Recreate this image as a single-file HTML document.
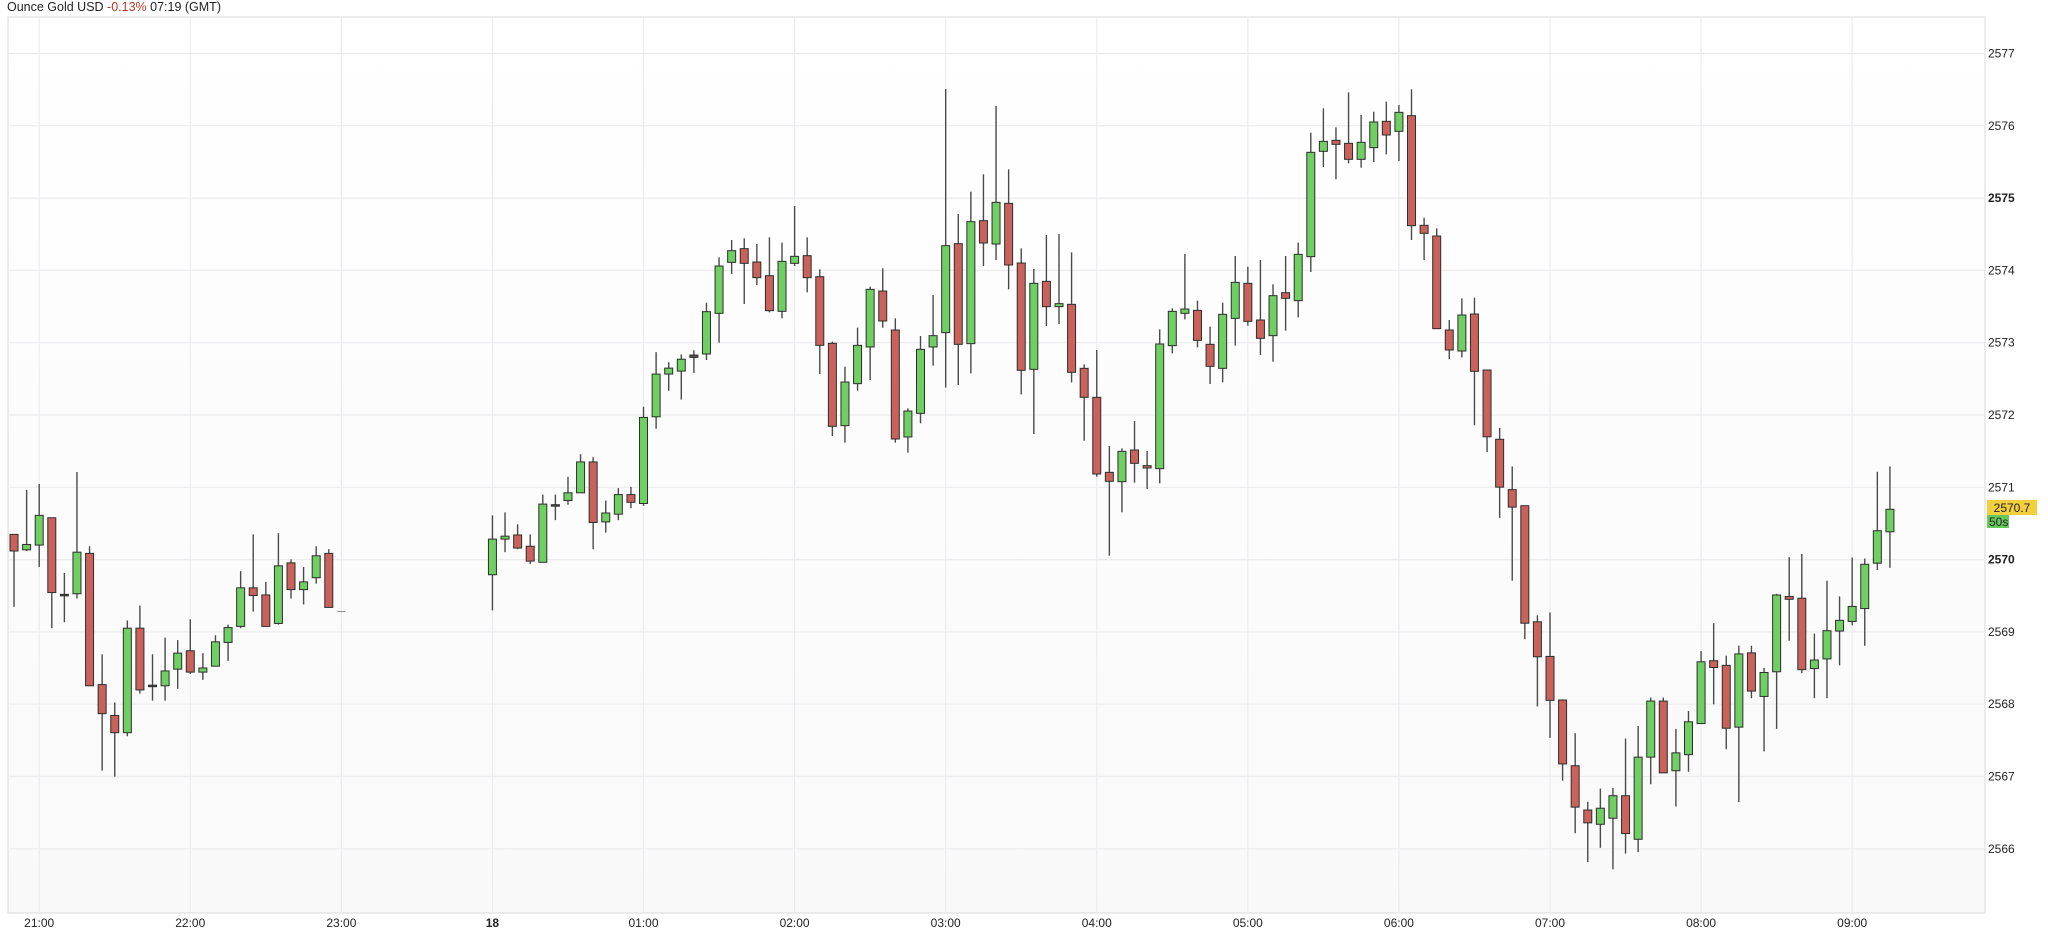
<!DOCTYPE html>
<html><head><meta charset="utf-8"><style>
html,body{margin:0;padding:0;background:#fff;width:2048px;height:931px;overflow:hidden}
svg{display:block}
text{font-family:"Liberation Sans",sans-serif}
</style></head><body>
<svg id="c" width="2048" height="931" viewBox="0 0 2048 931" xmlns="http://www.w3.org/2000/svg">
<defs><linearGradient id="bg" x1="0" y1="0" x2="0" y2="1"><stop offset="0" stop-color="#ffffff"/><stop offset="1" stop-color="#f9f9fa"/></linearGradient></defs>
<rect x="8" y="17" width="1977" height="896" fill="url(#bg)" stroke="#d9d9de" stroke-width="1"/>
<g id="grid"></g>
<g id="cand"></g>
<text x="7" y="11" font-size="12.5" fill="#222">Ounce Gold USD <tspan fill="#c0392b">-0.13%</tspan> 07:19 (GMT)</text>
<g id="labels"></g>
<rect x="1987" y="500" width="50" height="15" fill="#f2cf3c"/>
<text x="2012" y="512" font-size="12" text-anchor="middle" fill="#222">2570.7</text>
<rect x="1987" y="515" width="22" height="13" fill="#67c95a"/>
<text x="1989" y="526" font-size="12" fill="#222">50s</text>
</svg>
<script>
var NS="http://www.w3.org/2000/svg";
function el(t,a,p,txt){var e=document.createElementNS(NS,t);for(var k in a)e.setAttribute(k,a[k]);if(txt)e.textContent=txt;document.getElementById(p).appendChild(e);return e;}
function py(p){return 53.5+(2577-p)*72.3;}
// horizontal grid + y labels
for(var p=2566;p<=2577;p++){var y=py(p);
 el('line',{x1:8,x2:1985,y1:y,y2:y,stroke:'#ececf0','stroke-width':1.2},'grid');
 el('text',{x:1988,y:y+4,'font-size':12,fill:'#222','font-weight':(p==2575||p==2570)?'bold':'normal'},'labels',String(p));}
function X(i){return 39.2+i*12.59;}
var hrs=['21:00','22:00','23:00','18','01:00','02:00','03:00','04:00','05:00','06:00','07:00','08:00','09:00'];
for(var k=0;k<hrs.length;k++){var x=X(k*12);
 el('line',{x1:x,x2:x,y1:17,y2:913,stroke:'#ececf0','stroke-width':1.2},'grid');
 el('text',{x:x,y:927,'font-size':12,'text-anchor':'middle',fill:'#222','font-weight':hrs[k]=='18'?'bold':'normal'},'labels',hrs[k]);}
// data: [i, wickTop, bodyTop, bodyBot, wickBot, color]
var z1=[[-2,900,900,928,1022,'R'],[-1,825,917,926,928,'G'],[0,815,868,918,955,'G'],[1,872,872,998,1058,'R'],[2,965,1001,1003,1048,'D'],[3,795,930,1000,1008,'G'],[4,920,932,1155,1155,'R'],[5,1102,1153,1202,1298,'R'],[6,1183,1205,1234,1308,'R'],[7,1045,1058,1234,1240,'G'],[8,1020,1058,1162,1168,'R'],[9,1102,1154,1156,1180,'D'],[10,1074,1130,1155,1180,'G'],[11,1078,1100,1127,1160,'G'],[12,1043,1096,1132,1135,'R'],[13,1100,1125,1132,1145,'G'],[14,1070,1081,1122,1122,'G'],[15,1052,1057,1082,1113,'G'],[16,962,990,1055,1058,'G'],[17,900,990,1003,1030,'R'],[18,980,1002,1055,1055,'R'],[19,898,953,1050,1052,'G'],[20,942,948,993,1008,'R'],[21,955,980,993,1018,'G'],[22,920,936,973,983,'G'],[23,925,932,1023,1023,'R'],[24,1030,1030,1031,1031,'N'],
[36,868,908,968,1028,'G'],[37,863,903,908,930,'G'],[38,883,901,923,925,'R'],[39,900,920,945,950,'R'],[40,833,849,947,947,'G'],[41,833,850,852,876,'D'],[42,803,830,843,850,'G'],[43,765,778,830,830,'G'],[44,770,778,880,925,'R'],[45,843,864,879,897,'G'],[46,822,833,866,876,'G'],[47,820,833,846,856,'R'],[48,685,703,848,852,'G'],[49,593,630,702,722,'G'],[50,610,620,630,658,'G'],[51,597,605,625,673,'G'],[52,590,598,602,628,'D']];
var z3=[[53,728,755,882,900,'G'],[54,592,618,760,848,'G'],[55,540,572,607,642,'G'],[56,535,566,610,732,'R'],[57,552,606,653,675,'R'],[58,532,647,752,757,'R'],[59,548,604,754,775,'G'],[60,438,589,610,618,'G'],[61,532,587,653,697,'R'],[62,628,650,856,942,'R'],[63,845,850,1099,1128,'R'],[64,920,966,1097,1148,'G'],[65,803,856,971,992,'G'],[66,680,688,861,960,'G'],[67,625,693,783,803,'R'],[68,775,810,1137,1148,'R'],[69,1045,1053,1131,1178,'G'],[70,828,868,1060,1090,'G'],[71,705,827,861,917,'G'],[72,87,557,818,983,'G'],[73,462,551,853,975,'R'],[74,395,485,851,940,'G'],[75,343,482,549,618,'R'],[76,138,427,552,600,'G'],
[77,328,430,615,688,'R'],[78,565,609,931,1003,'R'],[79,627,670,928,1122,'G'],[80,525,664,740,798,'R'],[81,522,731,740,792,'G'],[82,577,733,937,967,'R'],[83,913,925,1012,1142,'R'],[84,870,1012,1242,1250,'R'],[85,1158,1237,1264,1487,'R'],[86,1165,1174,1265,1357,'G'],[87,1083,1170,1210,1268,'R'],[88,1173,1217,1224,1287,'R'],[89,808,852,1226,1270,'G'],[90,745,754,857,880,'G'],[91,582,747,760,778,'G'],[92,722,751,841,862,'R'],[93,800,853,919,972,'R'],[94,728,763,925,967,'G'],[95,588,667,775,857,'G'],[96,620,670,784,797,'R'],[97,600,780,835,885,'R'],[98,673,707,827,905,'G'],[99,588,698,715,812,'R'],[100,548,583,722,772,'G'],[101,218,277,590,636,'G'],[102,145,244,274,321,'G'],[103,202,241,253,358,'R'],[104,97,250,298,310,'R'],[105,165,247,298,323,'G'],[106,155,186,263,306,'G'],[107,125,184,225,283,'R'],[108,135,157,214,303,'G'],[109,88,167,497,540,'R'],[110,473,496,520,600,'R'],[111,505,528,806,806,'R'],[112,780,810,870,897,'R'],[113,715,765,873,892,'G'],[114,713,762,934,1096,'R']];
var z5=[[115,28,28,215,258,'R'],[116,190,222,356,442,'R'],[117,298,363,412,618,'R'],[118,408,408,737,782,'R'],[119,715,733,831,970,'R'],[120,707,830,953,1058,'R'],[121,950,952,1131,1178,'R'],[122,1045,1136,1252,1325,'R'],[123,1237,1260,1296,1406,'R'],[124,1200,1255,1300,1366,'G'],[125,1198,1220,1283,1426,'G'],[126,1060,1220,1326,1382,'R'],[127,1025,1112,1342,1378,'G'],[128,945,955,1112,1188,'G'],[129,945,955,1156,1156,'R'],[130,1033,1100,1150,1250,'G'],[131,983,1013,1105,1153,'G'],[132,815,845,1018,1018,'G'],[133,737,842,861,964,'R'],[134,828,855,1031,1090,'R'],[135,800,823,1028,1238,'G'],[136,800,820,927,947,'R'],[137,862,875,942,1096,'G'],[138,655,658,873,1033,'G'],[139,552,662,670,786,'R'],[140,543,667,867,877,'R'],[141,766,840,864,947,'G'],[142,618,758,837,947,'G'],[143,662,729,759,855,'G'],[144,553,690,732,743,'G'],[145,556,572,696,800,'G'],[146,313,478,569,588,'G'],[147,298,418,481,582,'G']];
function draw(d,f){d.forEach(function(c){var x=X(c[0]);var wt=f(c[1]),bt=f(c[2]),bb=f(c[3]),wb=f(c[4]);
 if(c[5]=='N'){el('line',{x1:x-4,x2:x+4,y1:bt,y2:bt,stroke:'#888','stroke-width':1},'cand');return;}
 el('line',{x1:x,x2:x,y1:wt,y2:wb,stroke:'#4a4a4a','stroke-width':1.4},'cand');
 var h=Math.max(bb-bt,1.5);
 var fill=c[5]=='G'?'#6fcf63':(c[5]=='R'?'#c9625a':'#555');
 el('rect',{x:x-4,y:bt,width:8,height:h,fill:fill,stroke:'#2e2e2e','stroke-width':1},'cand');});}
draw(z1,function(v){return v*931/1568;});
draw(z3,function(v){return 60+v/3;});
draw(z5,function(v){return 360+v/2.8;});
</script>
</body></html>
